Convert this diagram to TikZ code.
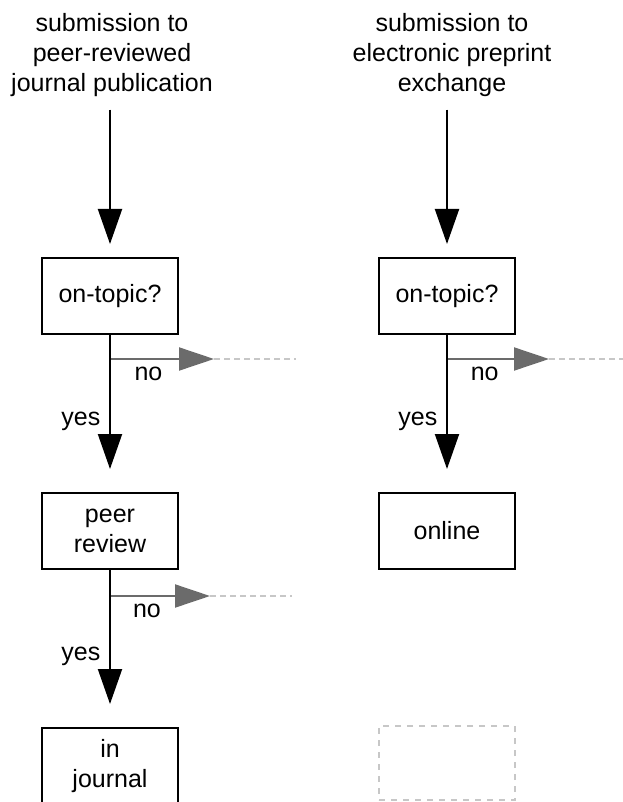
\documentclass[tikz,border=0pt]{standalone}
\usepackage{fontspec}
\setmainfont{Liberation Sans}
\usetikzlibrary{arrows.meta,positioning}
\definecolor{nogray}{gray}{0.42}
\definecolor{lostgray}{gray}{0.78}

\begin{document}
\begin{tikzpicture}[x=0.5pt,y=-0.5pt,
    every node/.style={font=\fontsize{12.5}{15}\selectfont, align=center},
    stagebox/.style={draw, line width=1pt, minimum width=68pt, minimum height=38pt, inner sep=0pt},
    emptybox/.style={draw=lostgray, dashed, line width=0.8pt, minimum width=68pt, minimum height=37pt},
    flow/.style={line width=1pt, -{Triangle[length=17.5pt,width=12pt]}},
    reject/.style={draw=nogray, line width=1pt, -{Triangle[length=17.5pt,width=11.5pt]}},
    lost/.style={draw=lostgray, line width=0.8pt, dash pattern=on 3pt off 2pt}]
    \useasboundingbox (0,0) rectangle (622,802);

    % Define the two headings
    \node (headJ) at (112,55) {submission to\\peer-reviewed\\journal publication};
    \node (headP) at (452,55) {submission to\\electronic preprint\\exchange};

    % Boxes of the journal route
    \node[stagebox] (topicJ) at (110,296) {on-topic?};
    \node[stagebox] (peerJ) at (110,531) {peer\\review};
    \node[stagebox] (inJ) at (110,766) {in\\journal};

    % Boxes of the preprint route
    \node[stagebox] (topicP) at (447,296) {on-topic?};
    \node[stagebox] (onlineP) at (447,531) {online};
    \node[emptybox] (blankP) at (447,763) {};

    % Rejections branch off to the right
    \coordinate (forkJ) at ([yshift=-12pt]topicJ.south);
    \coordinate (dropJ) at ([xshift=52pt]forkJ);
    \draw[reject] (forkJ) -- node[below, pos=0.37] {no} (dropJ);
    \draw[lost] (dropJ) -- ++(82,0);

    \coordinate (forkR) at ([yshift=-13pt]peerJ.south);
    \coordinate (dropR) at ([xshift=50pt]forkR);
    \draw[reject] (forkR) -- node[below, pos=0.37] {no} (dropR);
    \draw[lost] (dropR) -- ++(82,0);

    \coordinate (forkP) at ([yshift=-12pt]topicP.south);
    \coordinate (dropP) at ([xshift=51pt]forkP);
    \draw[reject] (forkP) -- node[below, pos=0.37] {no} (dropP);
    \draw[lost] (dropP) -- ++(80,0);

    % Main flow
    \draw[flow, shorten <=3pt, shorten >=6.5pt] (headJ.south -| topicJ.north) -- (topicJ.north);
    \draw[flow, shorten >=11.5pt] (topicJ.south) -- node[left=1pt, pos=0.55] {yes} (peerJ.north);
    \draw[flow, shorten >=11.5pt] (peerJ.south) -- node[left=1pt, pos=0.55] {yes} (inJ.north);

    \draw[flow, shorten <=3pt, shorten >=6.5pt] (headP.south -| topicP.north) -- (topicP.north);
    \draw[flow, shorten >=11.5pt] (topicP.south) -- node[left=1pt, pos=0.55] {yes} (onlineP.north);
\end{tikzpicture}
\end{document}
